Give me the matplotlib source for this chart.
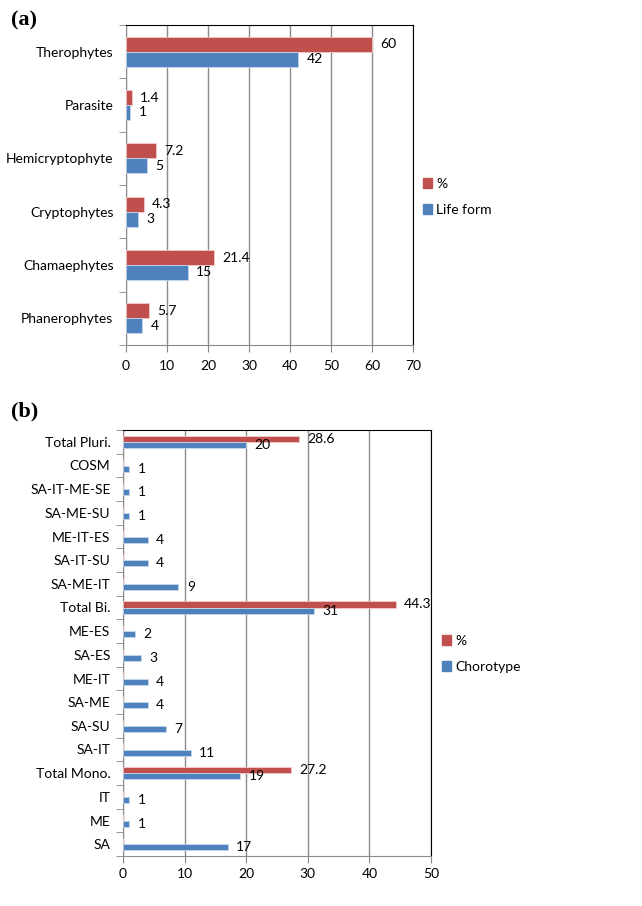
import numpy as np
import matplotlib
matplotlib.use('Agg')
import matplotlib.pyplot as plt
from matplotlib.patches import Patch
from matplotlib import font_manager

# data for panel (a): life forms, listed bottom to top
lifeFormLabels = ['Phanerophytes', 'Chamaephytes', 'Cryptophytes',
                  'Hemicryptophyte', 'Parasite', 'Therophytes']
lifeFormCounts = [4, 15, 3, 5, 1, 42]
lifeFormPercent = [5.7, 21.4, 4.3, 7.2, 1.4, 60]

# data for panel (b): chorotypes, listed bottom to top
chorotypeLabels = ['SA', 'ME', 'IT', 'Total Mono.', 'SA-IT', 'SA-SU', 'SA-ME',
                   'ME-IT', 'SA-ES', 'ME-ES', 'Total Bi.', 'SA-ME-IT',
                   'SA-IT-SU', 'ME-IT-ES', 'SA-ME-SU', 'SA-IT-ME-SE', 'COSM',
                   'Total Pluri.']
chorotypeCounts = [17, 1, 1, 19, 11, 7, 4, 4, 3, 2, 31, 9, 4, 4, 1, 1, 1, 20]
chorotypePercent = [None, None, None, 27.2, None, None, None, None, None, None,
                    44.3, None, None, None, None, None, None, 28.6]

red = '#C0504D'
blue = '#4F81BD'

# narrow font if available, otherwise Lato at a smaller size
installed = {f.name for f in font_manager.fontManager.ttflist}
if 'Liberation Sans Narrow' in installed:
    plt.rcParams['font.family'] = ['Liberation Sans Narrow', 'DejaVu Sans']
    baseSize = 12
else:
    plt.rcParams['font.family'] = ['Lato', 'DejaVu Sans']
    baseSize = 10

W, H = 642, 906
fig = plt.figure(figsize=(W / 100, H / 100), dpi=100)


def addAxes(left, top, right, bottom):
    # pixel box -> figure fraction
    return fig.add_axes([left / W, 1 - bottom / H, (right - left) / W,
                         (bottom - top) / H])


def drawPanel(ax, labels, counts, percents, barH, xMax, fontSize, xPad):
    pos = np.arange(len(labels))
    pct = np.array([np.nan if p is None else p for p in percents], dtype=float)
    redBars = ax.barh(pos + barH / 2, np.nan_to_num(pct), barH, color=red,
                      edgecolor='#f2c9c8', linewidth=0.6, zorder=3)
    blueBars = ax.barh(pos - barH / 2, counts, barH, color=blue,
                       edgecolor='#c6d6ea', linewidth=0.6, zorder=3)
    redText = ['' if np.isnan(p) else '%g' % p for p in pct]
    ax.bar_label(redBars, labels=redText, padding=6, fontsize=fontSize)
    ax.bar_label(blueBars, labels=['%g' % c for c in counts], padding=6,
                 fontsize=fontSize)

    ax.set_xlim(0, xMax)
    ax.set_ylim(-0.5, len(labels) - 0.5)
    ax.set_xticks(np.arange(0, xMax + 1, 10))
    ax.set_yticks(pos)
    ax.set_yticklabels(labels)
    ax.set_yticks(np.arange(-0.5, len(labels), 1), minor=True)
    ax.tick_params(axis='y', which='major', length=0, pad=9,
                   labelsize=fontSize)
    ax.tick_params(axis='y', which='minor', length=5, color='#888888')
    ax.tick_params(axis='x', length=5, color='#888888', labelsize=fontSize,
                   pad=xPad)
    ax.grid(axis='x', color='#8c8c8c', linewidth=1, zorder=0)
    ax.set_axisbelow(True)
    for side in ['left', 'bottom']:
        ax.spines[side].set_color('#8c8c8c')
    for side in ['top', 'right']:
        ax.spines[side].set_color('#000000')


# panel (a)
axA = addAxes(126, 25, 413, 345)
drawPanel(axA, lifeFormLabels, lifeFormCounts, lifeFormPercent, 0.28, 70,
          baseSize, 6)
fig.text(11 / W, 1 - 20 / H, '(a)', fontsize=16, fontweight='bold',
         family='Liberation Serif', va='center')
fig.legend(handles=[Patch(color=red, label='%'),
                    Patch(color=blue, label='Life form')],
           loc='center left', bbox_to_anchor=(410 / W, 1 - 197 / H),
           frameon=False, fontsize=baseSize, handlelength=0.7,
           handleheight=0.7, handletextpad=0.3, labelspacing=1.0)

# panel (b)
axB = addAxes(123, 430, 431, 856)
drawPanel(axB, chorotypeLabels, chorotypeCounts, chorotypePercent, 0.26, 50,
          baseSize, 4)
fig.text(11 / W, 1 - 411 / H, '(b)', fontsize=16, fontweight='bold',
         family='Liberation Serif', va='center')
fig.legend(handles=[Patch(color=red, label='%'),
                    Patch(color=blue, label='Chorotype')],
           loc='center left', bbox_to_anchor=(429 / W, 1 - 654 / H),
           frameon=False, fontsize=baseSize, handlelength=0.7,
           handleheight=0.7, handletextpad=0.3, labelspacing=1.0)

fig.savefig('out.png', dpi=100)
